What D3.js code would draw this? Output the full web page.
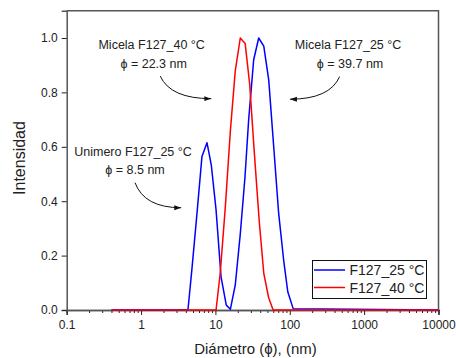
<!DOCTYPE html>
<html><head><meta charset="utf-8">
<script src="https://cdn.jsdelivr.net/npm/d3@7"></script>
<style>
html,body{margin:0;padding:0;background:#fff;}
svg{display:block;font-family:"Liberation Sans",Arial,sans-serif;}
</style></head>
<body>
<svg id="c" width="456" height="358"></svg>
<script>
// ---- data ----
const diam25 = [0.4, 4.27, 4.84, 5.65, 6.59, 7.7, 8.8, 10.2, 11.9, 14.0, 15.9, 18.5, 21.6, 25, 28, 32.7, 38.2, 44.7, 52.1, 60.8, 70.9, 83, 94, 111, 10000];
const int25  = [0, 0, 0.153, 0.355, 0.564, 0.615, 0.533, 0.368, 0.122, 0.018, 0.003, 0.092, 0.28, 0.49, 0.70, 0.92, 1.0, 0.97, 0.846, 0.60, 0.355, 0.18, 0.067, 0.005, 0];
const diam40 = [0.4, 10.2, 11.6, 13.6, 15.9, 18.5, 21.6, 25.1, 28.9, 33.4, 39, 44.7, 52, 59.7, 10000];
const int40  = [0, 0, 0.135, 0.38, 0.66, 0.88, 1.0, 0.98, 0.83, 0.576, 0.32, 0.135, 0.045, 0, 0];
const seriesNames = ["F127_25 °C", "F127_40 °C"];
const xTickValues = [0.1, 1, 10, 100, 1000, 10000];
const xTickLabels = ["0.1", "1", "10", "100", "1000", "10000"];
const yTickValues = [0, 0.2, 0.4, 0.6, 0.8, 1.0];
const yTickLabels = ["0.0", "0.2", "0.4", "0.6", "0.8", "1.0"];
// annotations: label lines, arrow start and end in data coordinates
const annoLines = [["Micela F127_40 °C", "ϕ = 22.3 nm"], ["Micela F127_25 °C", "ϕ = 39.7 nm"], ["Unimero F127_25 °C", "ϕ = 8.5 nm"]];
const annoTextPos = [[1.39, 0.959], [608, 0.959], [0.78, 0.568]];
const arrowFrom = [[1.81, 0.86], [468, 0.858], [0.83, 0.468]];
const arrowTo = [[8.8, 0.777], [100.5, 0.775], [3.47, 0.376]];

// ---- layout ----
const svg = d3.select("#c");
const L = 66.7, R = 438.5, T = 10.8, B = 310;
const x = d3.scaleLog().domain([0.1, 10000]).range([L, R]);
const y = d3.scaleLinear().domain([0, 1.1]).range([B, T]);
const axisColor = "#555";
const FF = "Liberation Sans, Arial, sans-serif";

// frame (top & right)
svg.append("path").attr("d", `M${L},${T}H${R}V${B}`).attr("fill", "none").attr("stroke", axisColor).attr("stroke-width", 1.5);

// x axis
const minorX = [];
for (let e = -1; e < 4; e++) for (let k = 2; k <= 9; k++) minorX.push(k * Math.pow(10, e));
const gx = svg.append("g").attr("transform", `translate(0,${B})`);
gx.call(d3.axisBottom(x).tickValues(minorX).tickSize(3).tickFormat(""));
gx.call(g => g.selectAll(".tick line").attr("stroke", "#222"));
const gx2 = svg.append("g").attr("transform", `translate(0,${B})`);
gx2.call(d3.axisBottom(x).tickValues(xTickValues).tickSize(5).tickPadding(5)
  .tickFormat((d, i) => xTickLabels[i]));
[gx, gx2].forEach(g => {
  g.select(".domain").attr("stroke", axisColor).attr("stroke-width", 1.5);
  g.selectAll("text").attr("font-size", 12).attr("fill", "#222").attr("font-family", FF);
});
gx2.selectAll(".tick line").attr("stroke", "#222");

// y axis
const gy = svg.append("g").attr("transform", `translate(${L},0)`);
gy.call(d3.axisLeft(y).tickValues(yTickValues).tickSize(5).tickPadding(4)
  .tickFormat((d, i) => yTickLabels[i]));
gy.select(".domain").attr("stroke", axisColor).attr("stroke-width", 1.5);
gy.selectAll(".tick line").attr("stroke", "#222");
gy.selectAll("text").attr("font-size", 12).attr("fill", "#222").attr("font-family", FF);

// axis titles
svg.append("text").attr("transform", `translate(19,158) rotate(-90)`)
  .attr("text-anchor", "middle").attr("dominant-baseline", "central")
  .attr("font-size", 16).attr("fill", "#222").text("Intensidad");
svg.append("text").attr("x", 255.5).attr("y", 353.5).attr("text-anchor", "middle")
  .attr("font-size", 15).attr("fill", "#222").text("Diámetro (ϕ), (nm)");

// curves
const line = d3.line().x(d => x(d[0])).y(d => y(d[1]));
const s25 = diam25.map((d, i) => [d, int25[i]]);
const s40 = diam40.map((d, i) => [d, int40[i]]);
svg.append("path").datum(s25).attr("d", line).attr("fill", "none").attr("stroke", "#0000ff").attr("stroke-width", 1.5).attr("stroke-linejoin", "round");
svg.append("path").datum(s40).attr("d", line).attr("fill", "none").attr("stroke", "#ff0000").attr("stroke-width", 1.5).attr("stroke-linejoin", "round");

// annotations
svg.append("defs").append("marker").attr("id", "ah").attr("viewBox", "0 0 10 10")
  .attr("refX", 10).attr("refY", 5).attr("markerWidth", 9).attr("markerHeight", 7)
  .attr("markerUnits", "userSpaceOnUse").attr("orient", "auto")
  .append("path").attr("d", "M0,1.5L10,5L0,8.5Z").attr("fill", "#111");

annoLines.forEach((lines, i) => {
  const tx = x(annoTextPos[i][0]), ty = y(annoTextPos[i][1]);
  lines.forEach((t, j) => {
    svg.append("text").attr("x", tx + (j ? 2 : 0)).attr("y", ty + j * 18.5)
      .attr("text-anchor", "middle").attr("font-size", 12.5).attr("fill", "#222").text(t);
  });
  const x0 = x(arrowFrom[i][0]), y0 = y(arrowFrom[i][1]);
  const x1 = x(arrowTo[i][0]), y1 = y(arrowTo[i][1]);
  const cx = x0 + (x1 - x0) * 0.2, cy = y1;
  svg.append("path").attr("d", `M${x0},${y0}Q${cx},${cy} ${x1},${y1}`)
    .attr("fill", "none").attr("stroke", "#111").attr("stroke-width", 1).attr("marker-end", "url(#ah)");
});

// legend
const lg = svg.append("g");
lg.append("rect").attr("x", 312.5).attr("y", 260.5).attr("width", 114).attr("height", 38)
  .attr("fill", "#fff").attr("stroke", "#111").attr("stroke-width", 1);
const lcol = ["#0000ff", "#ff0000"];
seriesNames.forEach((n, i) => {
  const yy = 270 + i * 17.5;
  lg.append("line").attr("x1", 314).attr("x2", 345).attr("y1", yy).attr("y2", yy).attr("stroke", lcol[i]).attr("stroke-width", 1.5);
  lg.append("text").attr("x", 349.5).attr("y", yy).attr("dominant-baseline", "central")
    .attr("font-size", 14).attr("fill", "#222").text(n);
});
</script>
</body></html>
